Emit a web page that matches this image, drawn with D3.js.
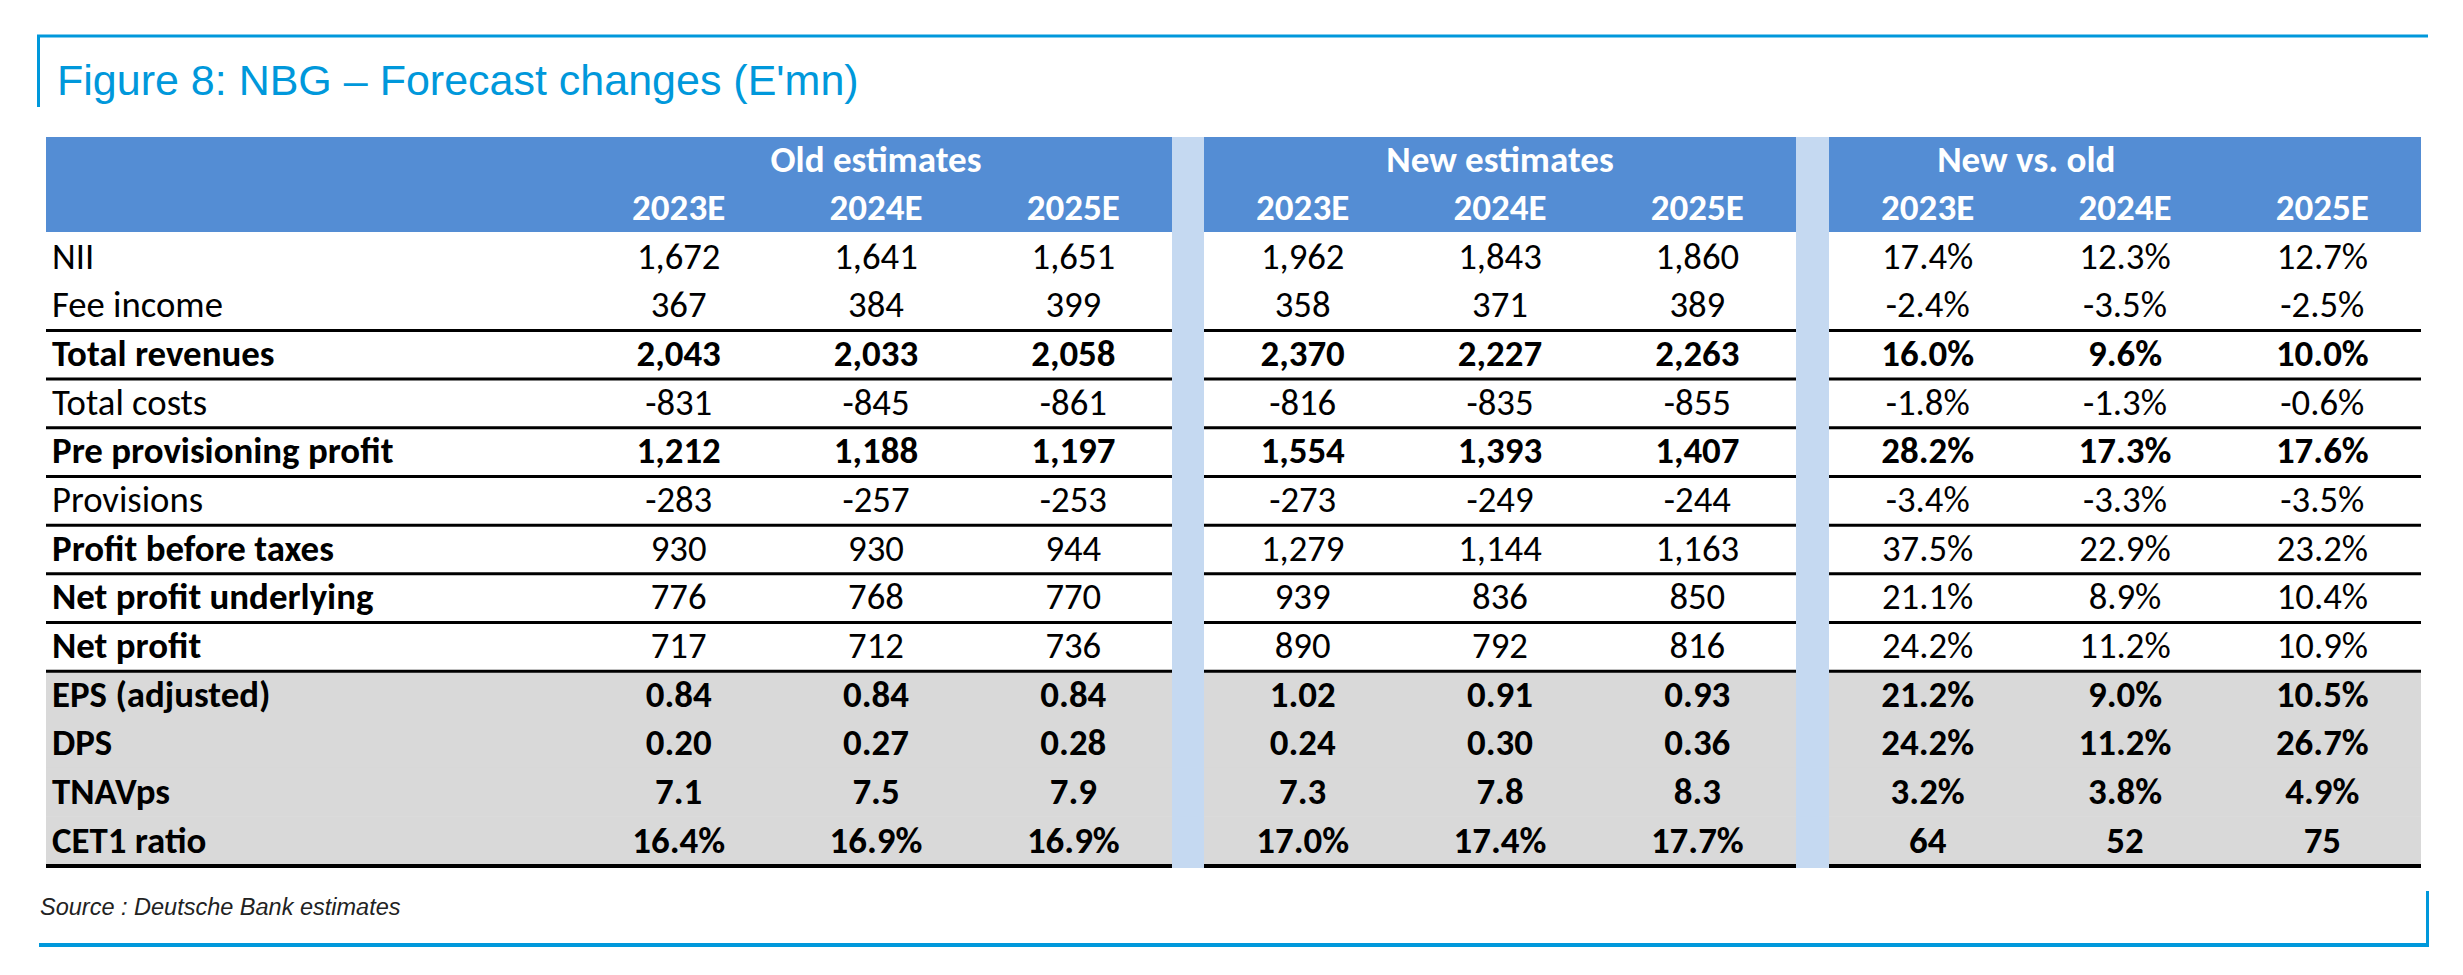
<!DOCTYPE html>
<html>
<head>
<meta charset="utf-8">
<script src="https://cdn.jsdelivr.net/npm/d3@7"></script>
<style>
  html, body { margin: 0; padding: 0; background: #ffffff; }
  svg { display: block; }
</style>
</head>
<body>
<script>
// ---------------- DATA ----------------
const rows = ["NII", "Fee income", "Total revenues", "Total costs", "Pre provisioning profit",
  "Provisions", "Profit before taxes", "Net profit underlying", "Net profit",
  "EPS (adjusted)", "DPS", "TNAVps", "CET1 ratio"];
const years = ["2023E", "2024E", "2025E"];
const groups = ["Old estimates", "New estimates", "New vs. old"];

const oldEstimates = [
  [1672, 1641, 1651], [367, 384, 399], [2043, 2033, 2058], [-831, -845, -861],
  [1212, 1188, 1197], [-283, -257, -253], [930, 930, 944], [776, 768, 770],
  [717, 712, 736], [0.84, 0.84, 0.84], [0.20, 0.27, 0.28], [7.1, 7.5, 7.9],
  [16.4, 16.9, 16.9]
];
const newEstimates = [
  [1962, 1843, 1860], [358, 371, 389], [2370, 2227, 2263], [-816, -835, -855],
  [1554, 1393, 1407], [-273, -249, -244], [1279, 1144, 1163], [939, 836, 850],
  [890, 792, 816], [1.02, 0.91, 0.93], [0.24, 0.30, 0.36], [7.3, 7.8, 8.3],
  [17.0, 17.4, 17.7]
];
const newVsOld = [
  [17.4, 12.3, 12.7], [-2.4, -3.5, -2.5], [16.0, 9.6, 10.0], [-1.8, -1.3, -0.6],
  [28.2, 17.3, 17.6], [-3.4, -3.3, -3.5], [37.5, 22.9, 23.2], [21.1, 8.9, 10.4],
  [24.2, 11.2, 10.9], [21.2, 9.0, 10.5], [24.2, 11.2, 26.7], [3.2, 3.8, 4.9],
  [64, 52, 75]
];
const estimateFormats = ["int", "int", "int", "int", "int", "int", "int", "int", "int", "dec2", "dec2", "dec1", "pct"];
const changeFormats = ["pct", "pct", "pct", "pct", "pct", "pct", "pct", "pct", "pct", "pct", "pct", "pct", "int"];
const boldLabelRows = ["Total revenues", "Pre provisioning profit", "Profit before taxes", "Net profit underlying",
  "Net profit", "EPS (adjusted)", "DPS", "TNAVps", "CET1 ratio"];
const boldValueRows = ["Total revenues", "Pre provisioning profit", "EPS (adjusted)", "DPS", "TNAVps", "CET1 ratio"];
const shadedRows = ["EPS (adjusted)", "DPS", "TNAVps", "CET1 ratio"];
const ruleAfterRows = ["Fee income", "Total revenues", "Total costs", "Pre provisioning profit", "Provisions",
  "Profit before taxes", "Net profit underlying", "Net profit"];
const titleText = "Figure 8: NBG \u2013 Forecast changes (E'mn)";
const sourceText = "Source : Deutsche Bank estimates";

// ---------------- LAYOUT ----------------
const W = 2463, H = 975;
const BRAND = "#0098db", HEAD = "#548dd4", SEP = "#c5d9f1", GREY = "#d9d9d9";
const FONT = "Carlito, Lato, 'Open Sans', sans-serif";
const tableLeft = 46, headTop = 137, bodyTop = 232, bodyBottom = 865;

const locale = d3.formatLocale({ decimal: ".", thousands: ",", grouping: [3], currency: ["", ""], minus: "-" });
const fmts = {
  int: locale.format(",d"),
  dec2: locale.format(".2f"),
  dec1: locale.format(".1f"),
  pct: v => locale.format(".1f")(v) + "%"
};

const groupStart = d3.scaleOrdinal().domain(groups).range([580, 1204, 1829]);
const col = d3.scaleBand().domain(years).range([0, 592]);
const y = d3.scaleBand().domain(rows).range([bodyTop, bodyBottom]);
const groupLeft = g => g === groups[0] ? tableLeft : groupStart(g);
const groupRight = g => groupStart(g) + col.range()[1];
const groupValues = [oldEstimates, newEstimates, newVsOld];
const groupFormats = [estimateFormats, estimateFormats, changeFormats];

const svg = d3.select("body").append("svg").attr("width", W).attr("height", H);

// font-size calibration against widths measured on the reference (Calibri-set table)
function calibrate(weight, samples) {
  const t = svg.append("text").attr("font-family", FONT).attr("font-weight", weight).attr("font-size", 100);
  let measured = 0, target = 0;
  samples.forEach(([s, w]) => { t.text(s); measured += t.node().getComputedTextLength(); target += w; });
  t.remove();
  return 100 * target / measured;
}
const sizeRegular = calibrate(400, [["Fee income", 171], ["Total costs", 159], ["Provisions", 152], ["1,962", 82], ["17.4%", 91], ["-2.4%", 83], ["358", 54]]);
const sizeBold = calibrate(700, [["Total revenues", 225], ["EPS (adjusted)", 218], ["CET1 ratio", 154], ["TNAVps", 120], ["2,370", 83], ["16.0%", 91]]);
const sizeHead = calibrate(700, [["Old estimates", 211], ["New estimates", 229], ["New vs. old", 177], ["2023E", 93]]);

// frame
svg.append("line").attr("x1", 37).attr("x2", 2428).attr("y1", 36).attr("y2", 36)
  .attr("stroke", BRAND).attr("stroke-width", 3);
svg.append("line").attr("x1", 38.5).attr("x2", 38.5).attr("y1", 35).attr("y2", 107)
  .attr("stroke", BRAND).attr("stroke-width", 3);
svg.append("line").attr("x1", 39).attr("x2", 2429).attr("y1", 945).attr("y2", 945)
  .attr("stroke", BRAND).attr("stroke-width", 4);
svg.append("line").attr("x1", 2427.5).attr("x2", 2427.5).attr("y1", 891).attr("y2", 947)
  .attr("stroke", BRAND).attr("stroke-width", 3);

svg.append("text").attr("x", 57).attr("y", 95).text(titleText)
  .attr("font-family", "'Liberation Sans', Arial, sans-serif").attr("font-size", 43)
  .attr("fill", BRAND);

// header bands
svg.selectAll("rect.head").data(groups).join("rect").attr("class", "head")
  .attr("x", g => groupLeft(g)).attr("width", g => groupRight(g) - groupLeft(g))
  .attr("y", headTop).attr("height", bodyTop - headTop).attr("fill", HEAD);

// shaded rows
groups.forEach(g => {
  svg.selectAll(null).data(shadedRows).join("rect")
    .attr("x", groupLeft(g)).attr("width", groupRight(g) - groupLeft(g))
    .attr("y", r => y(r)).attr("height", y.bandwidth() + 0.5).attr("fill", GREY);
});

// header texts
const headG = svg.append("g").attr("font-family", FONT).attr("font-weight", 700)
  .attr("fill", "#ffffff").attr("font-size", sizeHead).attr("text-anchor", "middle");
headG.selectAll("text.grp").data(groups).join("text").attr("class", "grp")
  .attr("x", (g, i) => i === 2 ? groupStart(g) + col.bandwidth() : groupStart(g) + col(years[1]) + col.bandwidth() / 2)
  .attr("y", 172).text(g => g);
groups.forEach(g => {
  headG.selectAll(null).data(years).join("text")
    .attr("x", yr => groupStart(g) + col(yr) + col.bandwidth() / 2)
    .attr("y", 220).text(yr => yr);
});

// row labels
const bodyG = svg.append("g").attr("font-family", FONT).attr("fill", "#000");
const baseOff = 36.5;
bodyG.selectAll("text.lbl").data(rows).join("text").attr("class", "lbl")
  .attr("x", 52).attr("y", r => y(r) + baseOff)
  .attr("font-weight", r => boldLabelRows.includes(r) ? 700 : 400)
  .attr("font-size", r => boldLabelRows.includes(r) ? sizeBold : sizeRegular)
  .text(r => r);

// values
groups.forEach((g, gi) => {
  rows.forEach((r, ri) => {
    const bold = boldValueRows.includes(r);
    bodyG.selectAll(null).data(groupValues[gi][ri]).join("text")
      .attr("x", (v, ci) => groupStart(g) + col(years[ci]) + col.bandwidth() / 2)
      .attr("y", y(r) + baseOff)
      .attr("text-anchor", "middle")
      .attr("font-weight", bold ? 700 : 400)
      .attr("font-size", bold ? sizeBold : sizeRegular)
      .text(v => fmts[groupFormats[gi][ri]](v));
  });
});

// rules
groups.forEach(g => {
  svg.selectAll(null).data(ruleAfterRows).join("line")
    .attr("x1", groupLeft(g)).attr("x2", groupRight(g))
    .attr("y1", r => y(r) + y.bandwidth() + 1).attr("y2", r => y(r) + y.bandwidth() + 1)
    .attr("stroke", "#000").attr("stroke-width", 3);
  svg.append("line").attr("x1", groupLeft(g)).attr("x2", groupRight(g))
    .attr("y1", bodyBottom + 1).attr("y2", bodyBottom + 1)
    .attr("stroke", "#000").attr("stroke-width", 4);
});

// separators
svg.selectAll("rect.sep").data(groups.slice(1)).join("rect").attr("class", "sep")
  .attr("x", (g, i) => groupRight(groups[i])).attr("width", (g, i) => groupStart(g) - groupRight(groups[i]))
  .attr("y", headTop).attr("height", bodyBottom + 3 - headTop).attr("fill", SEP);

// source
svg.append("text").attr("x", 40).attr("y", 915).text(sourceText)
  .attr("font-family", "'Liberation Sans', Arial, sans-serif").attr("font-style", "italic")
  .attr("font-size", 23.5).attr("fill", "#222");
</script>
</body>
</html>
